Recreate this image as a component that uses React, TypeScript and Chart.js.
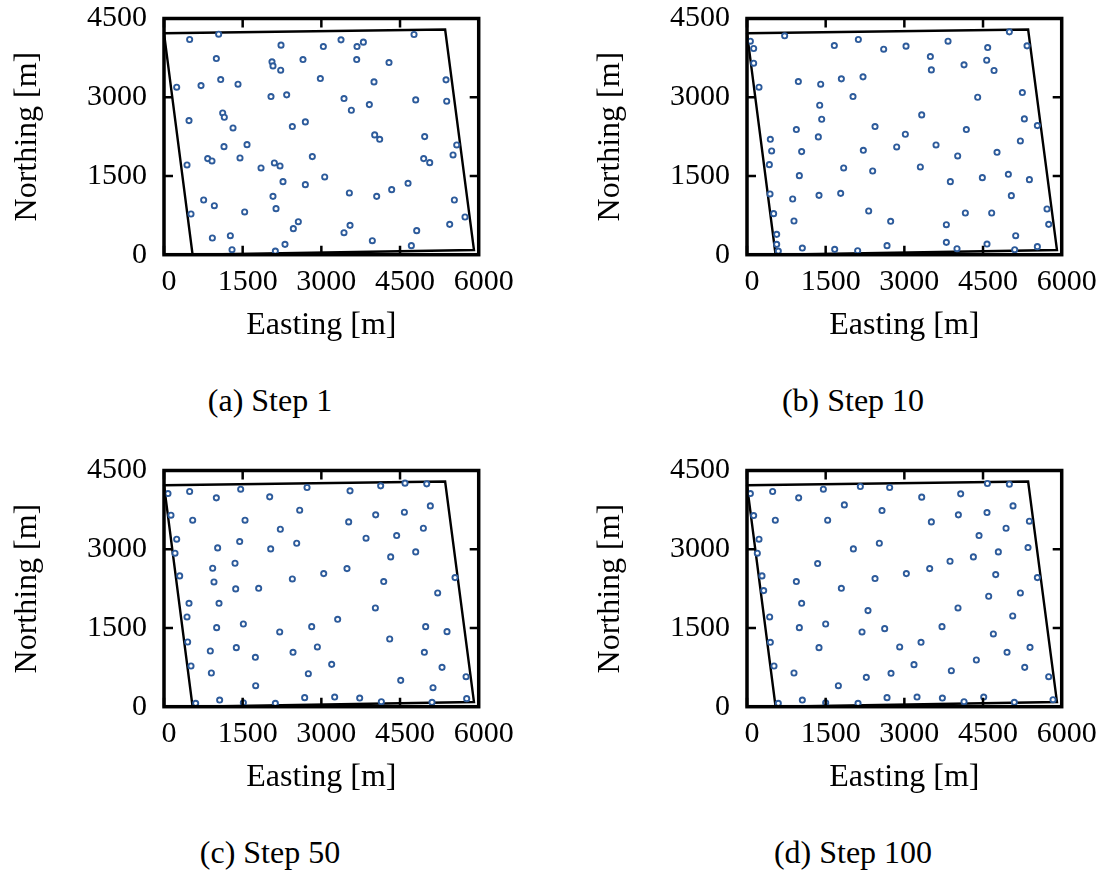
import React, { useEffect, useRef } from 'react';
import { Chart, registerables } from 'chart.js';

Chart.register(...registerables);

// ---- tick labels ----
const xTicks = [0, 1500, 3000, 4500, 6000];
const yTicks = [0, 1500, 3000, 4500];

// ---- field boundary (closed polygon) ----
const boundaryX = [0, 5360, 5910, 545, 0];
const boundaryY = [4220, 4290, 90, 0, 4220];

// ---- turbine positions per optimisation step ----
const step1X = [1042, 489, 2231, 3038, 998, 2059, 2078, 2650, 2225, 2981, 1081, 242, 706, 1411, 2040, 2339, 1119, 1150, 477, 1316, 2447, 2695, 1144, 1583, 2828, 439, 833, 915, 1449, 1850, 2104, 2212, 3064, 2269, 2695, 756, 960, 2078, 515, 1538, 2136, 2561, 2466, 922, 1265, 1297, 2123, 2307, 3375, 3680, 3801, 3674, 4290, 4767, 4004, 5377, 3432, 3572, 3915, 4799, 5390, 4017, 4112, 4970, 5581, 5511, 4951, 5066, 3534, 4055, 4341, 4653, 5536, 5739, 3547, 3432, 4818, 5447, 3972, 4716];
const step1Y = [4201, 4100, 3992, 3966, 3737, 3674, 3597, 3718, 3515, 3356, 3337, 3191, 3222, 3248, 3013, 3045, 2701, 2619, 2555, 2415, 2441, 2530, 2059, 2097, 1869, 1710, 1831, 1786, 1843, 1653, 1748, 1691, 1481, 1392, 1335, 1042, 934, 1112, 775, 814, 877, 629, 496, 318, 362, 95, 70, 197, 4093, 3966, 4049, 3718, 3661, 4195, 3292, 3331, 2975, 2752, 2860, 2949, 2924, 2282, 2199, 2250, 2091, 1900, 1831, 1754, 1176, 1112, 1239, 1360, 1042, 718, 559, 419, 458, 578, 267, 172];

const step10X = [718, 64, 127, 127, 229, 1665, 2123, 2606, 3032, 979, 1405, 1799, 2212, 2021, 1386, 1424, 941, 1360, 2441, 3019, 445, 470, 1042, 2218, 2854, 426, 998, 1843, 2396, 439, 871, 1373, 1786, 508, 896, 2320, 2739, 566, 566, 597, 1055, 1672, 2110, 2670, 3833, 5002, 4589, 5339, 3496, 3515, 4138, 4570, 4710, 4398, 5250, 3331, 5288, 4182, 5536, 3604, 5212, 4017, 4767, 3305, 3877, 4487, 4983, 5384, 5040, 4163, 4665, 5720, 3801, 5752, 5123, 3801, 4004, 4576, 5104, 5536];
const step10Y = [4170, 4068, 3928, 3648, 3191, 3985, 4100, 3915, 3973, 3299, 3248, 3350, 3388, 3013, 2847, 2581, 2384, 2244, 2441, 2295, 2199, 1977, 1964, 1989, 2053, 1716, 1506, 1653, 1595, 1157, 1061, 1131, 1169, 782, 642, 833, 636, 388, 197, 70, 127, 102, 76, 172, 4068, 4246, 3947, 3979, 3775, 3521, 3617, 3706, 3509, 3000, 3089, 2663, 2587, 2384, 2460, 2091, 2167, 1881, 1951, 1672, 1392, 1468, 1532, 1430, 1125, 794, 794, 871, 572, 578, 362, 235, 114, 203, 95, 153];

const step50X = [76, 489, 998, 1462, 2015, 2727, 2587, 133, 547, 1545, 2218, 242, 210, 1023, 1443, 2034, 2530, 928, 1354, 299, 953, 1367, 1805, 2447, 3045, 477, 1049, 439, 1004, 1513, 2206, 2816, 451, 883, 1379, 1742, 2460, 2924, 515, 903, 2752, 1748, 604, 1061, 1513, 2123, 2682, 3547, 4131, 4595, 5009, 3521, 4036, 4583, 5078, 3852, 4436, 4945, 4322, 4799, 3489, 4189, 5549, 5218, 4030, 3311, 4989, 5396, 4303, 4964, 3197, 5301, 4513, 5129, 5759, 3254, 3731, 4144, 5110, 5771];
const step50Y = [4061, 4100, 3979, 4144, 3998, 4176, 3744, 3648, 3553, 3553, 3381, 3191, 2924, 3025, 3146, 3006, 3114, 2638, 2733, 2492, 2377, 2244, 2256, 2434, 2536, 1970, 1970, 1710, 1506, 1576, 1424, 1525, 1233, 1061, 1125, 941, 1036, 1138, 775, 642, 629, 400, 64, 127, 76, 64, 172, 4112, 4208, 4259, 4246, 3521, 3655, 3706, 3826, 3210, 3261, 3400, 2854, 2949, 2631, 2384, 2460, 2167, 1881, 1665, 1525, 1430, 1290, 1036, 807, 750, 502, 362, 572, 184, 165, 95, 83, 153];

const step100X = [64, 489, 985, 1456, 2161, 2720, 1856, 2574, 127, 540, 1538, 229, 197, 2028, 2523, 1347, 286, 941, 1799, 2441, 3038, 318, 1042, 2307, 432, 998, 1500, 2193, 2625, 445, 1373, 2911, 515, 896, 2275, 2746, 1742, 597, 1055, 1500, 2117, 2670, 3331, 4074, 4583, 5002, 3515, 4030, 4576, 5072, 5384, 4939, 4424, 3871, 4316, 4792, 5358, 3483, 4742, 5536, 4608, 5212, 4023, 5066, 3718, 4697, 3318, 4958, 5396, 3184, 4373, 3896, 5295, 5752, 3242, 3725, 4138, 4513, 5097, 5835];
const step100Y = [4061, 4100, 3979, 4144, 4195, 4176, 3845, 3737, 3642, 3553, 3553, 3191, 2924, 3006, 3114, 2727, 2492, 2384, 2256, 2441, 2536, 2212, 1970, 1831, 1710, 1506, 1576, 1424, 1487, 1227, 1125, 1138, 775, 642, 559, 636, 400, 64, 127, 76, 64, 172, 3992, 4055, 4252, 4239, 3521, 3655, 3699, 3826, 3534, 3400, 3261, 2771, 2854, 2949, 3032, 2631, 2517, 2460, 2104, 2167, 1881, 1729, 1525, 1386, 1227, 1036, 1131, 801, 890, 686, 750, 572, 184, 165, 95, 184, 83, 133];

const captions = ['(a) Step 1', '(b) Step 10', '(c) Step 50', '(d) Step 100'];
const xTitle = 'Easting [m]';
const yTitle = 'Northing [m]';

const FONT = '"Liberation Serif", "Times New Roman", serif';
const MARKER = '#2d5b9b';

const framePlugin = {
  id: 'frame',
  afterDatasetsDraw(chart: any) {
    const { ctx, chartArea: a, scales } = chart;
    const tl = 9;
    ctx.save();
    ctx.strokeStyle = '#000';
    ctx.lineWidth = 2.5;
    ctx.beginPath();
    for (const v of xTicks) {
      const px = scales.x.getPixelForValue(v);
      ctx.moveTo(px, a.bottom);
      ctx.lineTo(px, a.bottom - tl);
      ctx.moveTo(px, a.top);
      ctx.lineTo(px, a.top + tl);
    }
    for (const v of yTicks) {
      const py = scales.y.getPixelForValue(v);
      ctx.moveTo(a.left, py);
      ctx.lineTo(a.left + tl, py);
      ctx.moveTo(a.right, py);
      ctx.lineTo(a.right - tl, py);
    }
    ctx.stroke();
    ctx.lineWidth = 3.5;
    ctx.strokeRect(a.left, a.top, a.right - a.left, a.bottom - a.top);
    ctx.restore();
  },
};

function zeroPad(s: any) {
  s.paddingTop = 0;
  s.paddingBottom = 0;
  s.paddingLeft = 0;
  s.paddingRight = 0;
}

function Panel({ xs, ys, caption, left, top }: { xs: number[]; ys: number[]; caption: string; left: number; top: number }) {
  const ref = useRef<HTMLCanvasElement>(null);
  useEffect(() => {
    if (!ref.current) return;
    const chart = new Chart(ref.current, {
      type: 'scatter',
      data: {
        datasets: [
          {
            data: xs.map((x, i) => ({ x, y: ys[i] })),
            pointStyle: 'circle',
            pointRadius: 2.6,
            pointBorderWidth: 1.9,
            pointBorderColor: MARKER,
            pointBackgroundColor: '#ffffff',
            showLine: false,
            order: 0,
          } as any,
          {
            data: boundaryX.map((x, i) => ({ x, y: boundaryY[i] })),
            showLine: true,
            borderColor: '#000',
            borderWidth: 2.4,
            pointRadius: 0,
            fill: false,
            clip: false,
            order: 1,
          } as any,
        ],
      },
      options: {
        responsive: false,
        animation: false,
        layout: { padding: { left: 0, top: 18.5, right: 81.3, bottom: 0 } },
        plugins: { legend: { display: false }, tooltip: { enabled: false } },
        scales: {
          x: {
            type: 'linear',
            min: 0,
            max: 6000,
            afterBuildTicks: (s: any) => {
              s.ticks = xTicks.map((v) => ({ value: v }));
            },
            afterFit: (s: any) => {
              s.height = 105.3;
              zeroPad(s);
            },
            grid: { display: false, drawTicks: false },
            border: { display: false },
            ticks: {
              padding: 12,
              labelOffset: 5,
              autoSkip: false,
              maxRotation: 0,
              color: '#000',
              font: { family: FONT, size: 30, lineHeight: 1.0 },
              callback: (v: any) => String(v),
            },
            title: {
              display: true,
              text: xTitle,
              color: '#000',
              font: { family: FONT, size: 32, lineHeight: 1.2 },
              padding: { top: 0, bottom: 15 },
            },
          },
          y: {
            type: 'linear',
            min: 0,
            max: 4500,
            afterBuildTicks: (s: any) => {
              s.ticks = yTicks.map((v) => ({ value: v }));
            },
            afterFit: (s: any) => {
              s.width = 164;
              zeroPad(s);
            },
            grid: { display: false, drawTicks: false },
            border: { display: false },
            ticks: {
              padding: 17,
              autoSkip: false,
              color: '#000',
              font: { family: FONT, size: 30, lineHeight: 1.0 },
              callback: (v: any) => String(v),
            },
            title: {
              display: true,
              text: yTitle,
              color: '#000',
              font: { family: FONT, size: 32, lineHeight: 1.2 },
              padding: { top: 8, bottom: 0 },
            },
          },
        },
      } as any,
      plugins: [framePlugin],
    });
    return () => chart.destroy();
  }, [xs, ys]);

  return (
    <>
      <canvas
        ref={ref}
        width={560}
        height={360}
        style={{ position: 'absolute', left, top, width: 560, height: 360 }}
      />
      <div
        style={{
          position: 'absolute',
          left: left + 270 - 200,
          top: top + 400 - 19,
          width: 400,
          textAlign: 'center',
          fontFamily: FONT,
          fontSize: 32,
          lineHeight: '38px',
          color: '#000',
        }}
      >
        {caption}
      </div>
    </>
  );
}

export default function App() {
  return (
    <div style={{ position: 'absolute', left: 0, top: 0, width: 1106, height: 870, background: '#fff', overflow: 'hidden' }}>
      <Panel xs={step1X} ys={step1Y} caption={captions[0]} left={0} top={0} />
      <Panel xs={step10X} ys={step10Y} caption={captions[1]} left={583} top={0} />
      <Panel xs={step50X} ys={step50Y} caption={captions[2]} left={0} top={452} />
      <Panel xs={step100X} ys={step100Y} caption={captions[3]} left={583} top={452} />
    </div>
  );
}
